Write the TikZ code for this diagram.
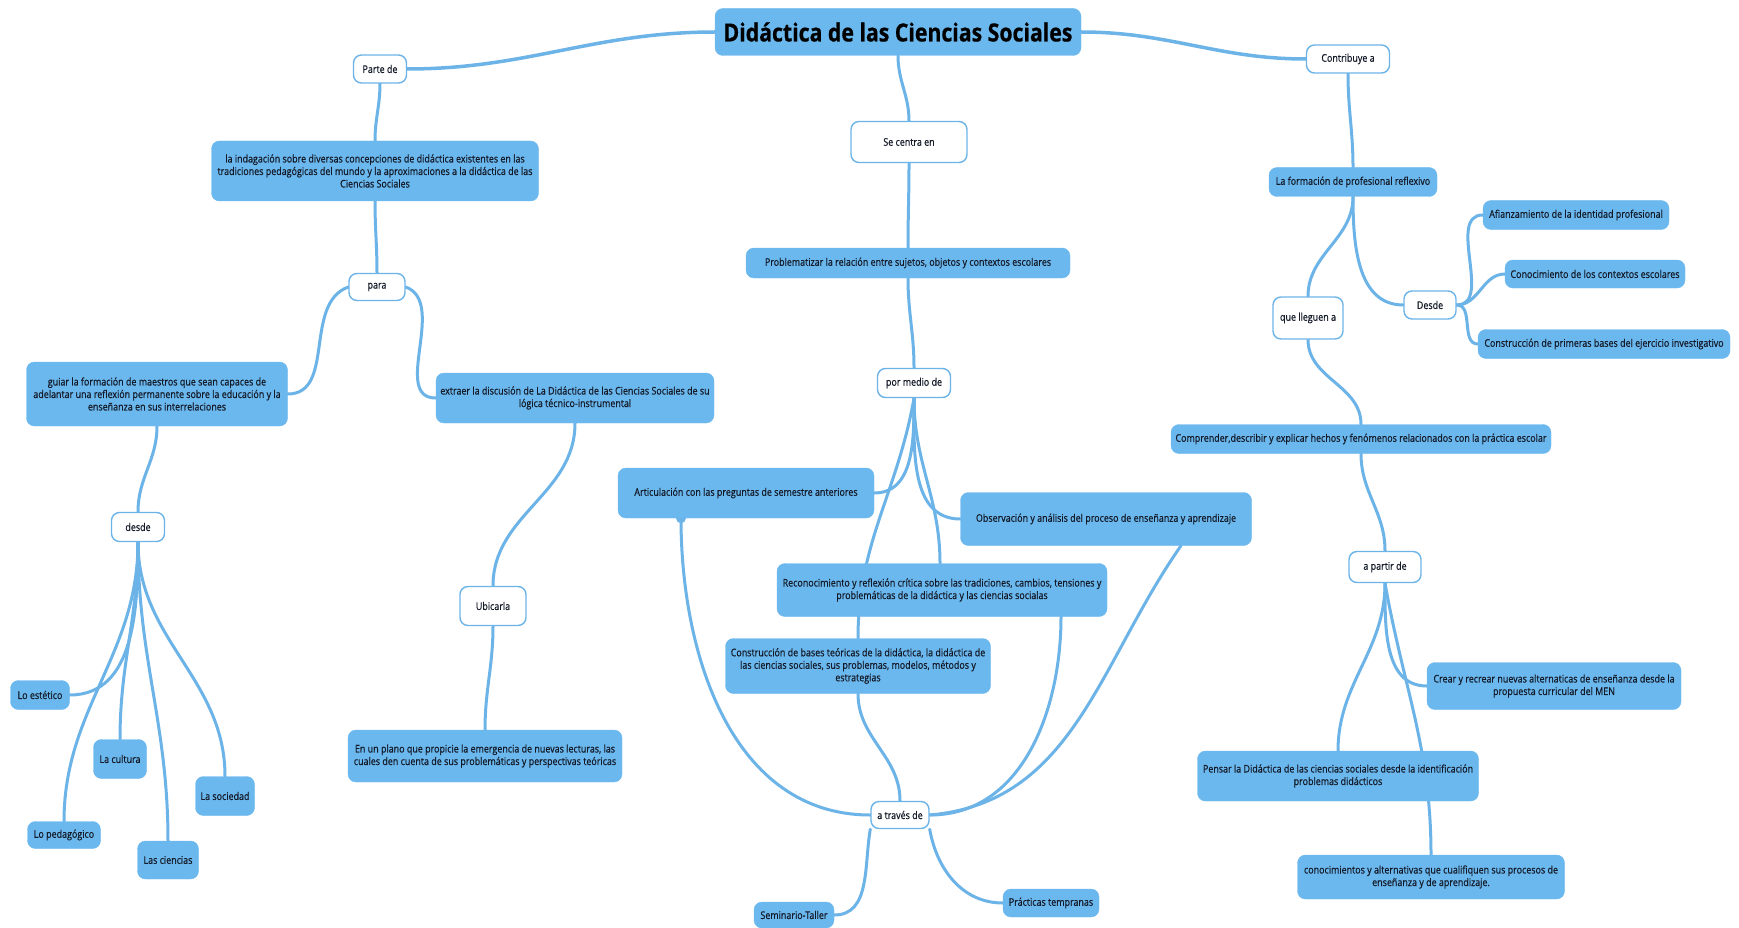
\documentclass[tikz,border=0pt]{standalone}
\usepackage{fontspec}
\setmainfont{Open Sans}[FakeStretch=0.85,FakeBold=0.6]
\usetikzlibrary{backgrounds}
\definecolor{boxblue}{HTML}{6BB8EE}
\definecolor{lineblue}{HTML}{6CB4E8}
\definecolor{txt}{HTML}{141A28}
\tikzset{
  bx/.style={fill=boxblue, draw=boxblue, rounded corners=8pt, align=center, text=txt,
    font=\fontsize{10.5}{12.5}\selectfont, inner sep=2pt},
  wb/.style={fill=white, draw=lineblue, line width=1.4pt, rounded corners=8pt, align=center,
    text=txt, font=\fontsize{10.5}{12.5}\selectfont, inner sep=2pt},
  ln/.style={draw=lineblue, line width=3pt, line cap=round},
}
\begin{document}
\begin{tikzpicture}[x=1pt,y=-1pt]
\useasboundingbox (0,0) rectangle (1739,928);
% nodes
\node[bx, minimum width=366, minimum height=47, font=\fontsize{25}{28}\selectfont\bfseries, text=black] (title) at (898,32) {Didáctica de las Ciencias Sociales};
\node[wb, minimum width=53, minimum height=28] (parte) at (380,69) {Parte de};
\node[wb, minimum width=83, minimum height=28] (contrib) at (1348,59) {Contribuye a};
\node[wb, minimum width=116, minimum height=41] (centra) at (909,142) {Se centra en};
\node[bx, minimum width=327, minimum height=60] (indag) at (375,171) {la indagación sobre diversas concepciones de didáctica existentes en las\\tradiciones pedagógicas del mundo y la aproximaciones a la didáctica de las\\Ciencias Sociales};
\node[bx, minimum width=168, minimum height=29] (formac) at (1353,182) {La formación de profesional reflexivo};
\node[bx, minimum width=186, minimum height=29] (afian) at (1576,215) {Afianzamiento de la identidad profesional};
\node[bx, minimum width=324, minimum height=30] (probl) at (908,263) {Problematizar la relación entre sujetos, objetos y contextos escolares};
\node[bx, minimum width=180, minimum height=28] (conoc) at (1595,274) {Conocimiento de los contextos escolares};
\node[wb, minimum width=56, minimum height=27] (para) at (377,287) {para};
\node[wb, minimum width=52, minimum height=28] (desdeb) at (1430,305) {Desde};
\node[wb, minimum width=70, minimum height=42] (lleguen) at (1308,318) {que lleguen a};
\node[bx, minimum width=252, minimum height=29] (constrp) at (1604,344) {Construcción de primeras bases del ejercicio investigativo};
\node[bx, minimum width=261, minimum height=64] (guiar) at (157,394) {guiar la formación de maestros que sean capaces de\\adelantar una reflexión permanente sobre la educación y la\\enseñanza en sus interrelaciones};
\node[bx, minimum width=278, minimum height=50] (extraer) at (575,398) {extraer la discusión de La Didáctica de las Ciencias Sociales de su\\lógica técnico-instrumental};
\node[wb, minimum width=73, minimum height=29] (medio) at (914,383) {por medio de};
\node[bx, minimum width=380, minimum height=29] (compr) at (1361,439) {Comprender,describir y explicar hechos y fenómenos relacionados con la práctica escolar};
\node[bx, minimum width=256, minimum height=50] (artic) at (746,493) {Articulación con las preguntas de semestre anteriores};
\node[bx, minimum width=291, minimum height=53] (obs) at (1106,519) {Observación y análisis del proceso de enseñanza y aprendizaje};
\node[wb, minimum width=53, minimum height=29] (desde) at (138,527) {desde};
\node[wb, minimum width=72, minimum height=31] (apartir) at (1385,567) {a partir de};
\node[bx, minimum width=330, minimum height=53] (recon) at (942,590) {Reconocimiento y reflexión crítica sobre las tradiciones, cambios, tensiones y\\problemáticas de la didáctica y las ciencias socialas};
\node[wb, minimum width=66, minimum height=39] (ubic) at (493,606) {Ubicarla};
\node[bx, minimum width=265, minimum height=55] (constr) at (858,666) {Construcción de bases teóricas de la didáctica, la didáctica de\\las ciencias sociales, sus problemas, modelos, métodos y\\estrategias};
\node[bx, minimum width=254, minimum height=47] (crear) at (1554,686) {Crear y recrear nuevas alternaticas de enseñanza desde la\\propuesta curricular del MEN};
\node[bx, minimum width=59, minimum height=29] (estet) at (40,695) {Lo estético};
\node[bx, minimum width=53, minimum height=39] (cultura) at (120,759) {La cultura};
\node[bx, minimum width=274, minimum height=52] (plano) at (485,756) {En un plano que propicie la emergencia de nuevas lecturas, las\\cuales den cuenta de sus problemáticas y perspectivas teóricas};
\node[bx, minimum width=281, minimum height=50] (pensar) at (1338,776) {Pensar la Didáctica de las ciencias sociales desde la identificación\\problemas didácticos};
\node[bx, minimum width=59, minimum height=39] (socied) at (225,796) {La sociedad};
\node[wb, minimum width=58, minimum height=27] (traves) at (900,815) {a través de};
\node[bx, minimum width=73, minimum height=27] (pedag) at (64,835) {Lo pedagógico};
\node[bx, minimum width=61, minimum height=38] (cienc) at (168,860) {Las ciencias};
\node[bx, minimum width=267, minimum height=44] (conocim) at (1431,877) {conocimientos y alternativas que cualifiquen sus procesos de\\enseñanza y de aprendizaje.};
\node[bx, minimum width=96, minimum height=28] (pract) at (1051,903) {Prácticas tempranas};
\node[bx, minimum width=80, minimum height=26] (semin) at (794,915) {Seminario-Taller};
% connectors
\begin{scope}[on background layer]
\fill[white] (0,0) rectangle (1739,928);
\draw[ln, line width=3.5pt] (title.west) to[out=180,in=0] (parte.east);
\draw[ln, line width=3.5pt] (title.east) to[out=0,in=180] (contrib.west);
\draw[ln] (title.south) to[out=-90,in=90] (centra.north);
\draw[ln] (parte.south) to[out=-90,in=90] (indag.north);
\draw[ln] (indag.south) to[out=-90,in=90] (para.north);
\draw[ln] (para.west) to[out=200,in=0] (guiar.east);
\draw[ln] (para.east) to[out=-20,in=180] (extraer.west);
\draw[ln] (guiar.south) to[out=-90,in=90] (desde.north);
\draw[ln] (extraer.south) to[out=-90,in=90] (ubic.north);
\draw[ln] (ubic.south) to[out=-90,in=90] (plano.north);
\draw[ln] (desde.south) to[out=-90,in=0] (estet.east);
\draw[ln] (desde.south) to[out=-90,in=90] (pedag.north);
\draw[ln] (desde.south) to[out=-90,in=90] (cultura.north);
\draw[ln] (desde.south) to[out=-90,in=90] (cienc.north);
\draw[ln] (desde.south) to[out=-90,in=90] (socied.north);
\draw[ln] (centra.south) to[out=-90,in=90] (probl.north);
\draw[ln] (probl.south) to[out=-90,in=90] (medio.north);
\draw[ln] (medio.south) to[out=-90,in=0] (artic.east);
\draw[ln] (medio.south) to[out=-90,in=180] (obs.west);
\draw[ln] (medio.south) to[out=-90,in=90] ([xshift=-2]recon.north);
\draw[ln] (medio.south) to[out=-100,in=90] (constr.north);
\fill[lineblue] ([xshift=-65]artic.south) circle (5);
\draw[ln] ([xshift=-65]artic.south) to[out=-90,in=180] (traves.west);
\draw[ln] (constr.south) to[out=-90,in=90] (traves.north);
\draw[ln] ([xshift=119]recon.south) to[out=-90,in=0] (traves.east);
\draw[ln] ([xshift=75]obs.south) to[out=235,in=5] (traves.east);
\draw[ln] (traves.south west) to[out=-100,in=0] (semin.east);
\draw[ln] (traves.south east) to[out=-80,in=180] (pract.west);
\draw[ln] (contrib.south) to[out=-90,in=90] (formac.north);
\draw[ln] (formac.south) to[out=-90,in=90] (lleguen.north);
\draw[ln] (formac.south) to[out=-90,in=180] (desdeb.west);
\draw[ln] (desdeb.east) to[out=0,in=180] (afian.west);
\draw[ln] (desdeb.east) to[out=0,in=180] (conoc.west);
\draw[ln] (desdeb.east) to[out=0,in=180] (constrp.west);
\draw[ln] (lleguen.south) to[out=-90,in=90] (compr.north);
\draw[ln] (compr.south) to[out=-90,in=90] (apartir.north);
\draw[ln] (apartir.south) to[out=-90,in=180] (crear.west);
\draw[ln] (apartir.south) to[out=-90,in=90] (pensar.north);
\draw[ln] (apartir.south) to[out=-80,in=90] (conocim.north);
\end{scope}
\end{tikzpicture}
\end{document}
